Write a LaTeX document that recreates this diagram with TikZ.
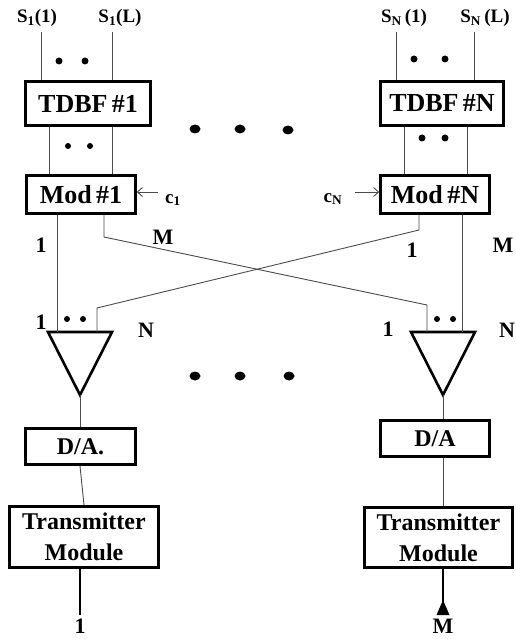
\documentclass[tikz,border=0pt]{standalone}
\usepackage{fontspec}
\setmainfont{Liberation Serif}
\usetikzlibrary{arrows.meta,shapes.geometric}
\begin{document}
\begin{tikzpicture}[x=1pt,y=-1pt,
  box/.style={draw, line width=2.6pt, inner sep=0pt, align=center,
    font=\fontsize{24}{31}\selectfont\bfseries},
  bigbox/.style={box, font=\fontsize{26}{31}\selectfont\bfseries},
  wire/.style={draw=black!70, line width=0.9pt},
  thick wire/.style={draw=black, line width=2.8pt},
  tri/.style={draw, line width=2.6pt, line join=miter},
  lbl/.style={inner sep=0pt, font=\fontsize{22}{24}\selectfont\bfseries},
  slbl/.style={inner sep=0pt, font=\fontsize{19}{22}\selectfont\bfseries},
  clbl/.style={inner sep=0pt, font=\fontsize{19}{20}\selectfont\bfseries},
  dotsm/.style={circle, fill, inner sep=0pt, minimum size=7pt},
  dotbig/.style={ellipse, fill, inner sep=0pt, minimum width=11pt, minimum height=9pt},
  ctrl/.style={draw=black!70, line width=0.9pt, -{Straight Barb[length=5pt,width=9pt]}}
]
\fill[white] (0,0) rectangle (515,639);
\useasboundingbox (0,0) rectangle (515,639);

% boxes
\node[bigbox, minimum width=125pt, minimum height=44pt] (tdbf1) at (88,103.5) {TDBF\,\#1};
\node[bigbox, minimum width=123pt, minimum height=44pt] (tdbfN) at (442,103.5) {TDBF\,\#N};
\node[bigbox, minimum width=109pt, minimum height=38pt] (mod1) at (81,194.5) {Mod\,\#1};
\node[bigbox, minimum width=109pt, minimum height=38pt] (modN) at (435,194.5) {Mod\,\#N};
\node[box, minimum width=110pt, minimum height=36pt] (da1) at (80.5,446.5) {D/A.};
\node[box, minimum width=109pt, minimum height=36pt] (daN) at (435,438.5) {D/A};
\node[box, minimum width=149pt, minimum height=61pt] (tm1) at (84,537) {Transmitter\\Module};
\node[box, minimum width=148pt, minimum height=60pt] (tmN) at (438.5,537.5) {Transmitter\\Module};

% top labels
\node[slbl] (s11) at (37,18) {S\textsubscript{1}(1)};
\node[slbl] (s1L) at (120,18) {S\textsubscript{1}(L)};
\node[slbl] (sN1) at (404,18) {S\textsubscript{N}\,(1)};
\node[slbl] (sNL) at (485,18) {S\textsubscript{N}\,(L)};

% input wires
\coordinate (i1a) at (41,32);  \coordinate (i1b) at (112,32);
\coordinate (iNa) at (396,32); \coordinate (iNb) at (474,32);
\draw[wire] (i1a) -- (i1a |- tdbf1.north);
\draw[wire] (i1b) -- (i1b |- tdbf1.north);
\draw[wire] (iNa) -- (iNa |- tdbfN.north);
\draw[wire] (iNb) -- (iNb |- tdbfN.north);
\node[dotsm] (d1) at (59,61) {};
\node[dotsm] (d2) at (85,61) {};
\node[dotsm] (d3) at (414,59) {};
\node[dotsm] (d4) at (445,59) {};

% TDBF -> Mod
\coordinate (m1a) at (49,127);  \coordinate (m1b) at (112,127);
\coordinate (mNa) at (404,127); \coordinate (mNb) at (467,127);
\draw[wire] (m1a) -- (m1a |- mod1.north);
\draw[wire] (m1b) -- (m1b |- mod1.north);
\draw[wire] (mNa) -- (mNa |- modN.north);
\draw[wire] (mNb) -- (mNb |- modN.north);
\node[dotsm, minimum size=6pt] (d5) at (68,146) {};
\node[dotsm, minimum size=6pt] (d6) at (90,146) {};
\node[dotsm] (d7) at (422,138) {};
\node[dotsm] (d8) at (445,138) {};

% big dots
\node[dotbig] (b1) at (195,129) {};
\node[dotbig] (b2) at (240,129) {};
\node[dotbig] (b3) at (288,130) {};
\node[dotbig] (b4) at (195,376) {};
\node[dotbig] (b5) at (240,376) {};
\node[dotbig] (b6) at (289,376) {};

% control inputs
\node[clbl] (c1) at (173,200) {c\textsubscript{1}};
\node[clbl] (cN) at (333,199) {c\textsubscript{N}};
\coordinate (c1s) at (158,192);
\coordinate (cNs) at (355,192);
\draw[ctrl] (c1s) -- (c1s -| mod1.east);
\draw[ctrl] (cNs) -- (cNs -| modN.west);

% triangles (combiners)
\coordinate (t1l) at (48,332); \coordinate (t1r) at (112,332); \coordinate (t1a) at (80,395);
\coordinate (tNl) at (411,332); \coordinate (tNr) at (475,332); \coordinate (tNa) at (443,395);
\draw[tri] (t1l) -- (t1r) -- (t1a) -- cycle;
\draw[tri] (tNl) -- (tNr) -- (tNa) -- cycle;

% crossing wires
\coordinate (o11) at (57,215);  \coordinate (o1M) at (104,215);
\coordinate (oN1) at (419,215); \coordinate (oNM) at (462,215);
\draw[wire] (o11) -- (57,332);
\draw[wire] (o1M) -- (104,237) -- (427,305) -- (427,332);
\draw[wire] (oN1) -- (419,230) -- (97,308) -- (97,332);
\draw[wire] (oNM) -- (462,332);

\node[lbl] (l1) at (41,245) {1};
\node[lbl] (lM) at (163,237) {M};
\node[lbl] (l2) at (412,250) {1};
\node[lbl] (lM2) at (503,245) {M};
\node[lbl] (l3) at (41,322) {1};
\node[lbl] (lN) at (146,330) {N};
\node[lbl] (l4) at (388,329) {1};
\node[lbl] (lN2) at (507,330) {N};
\node[dotsm, minimum size=6pt] (d9) at (67,319) {};
\node[dotsm, minimum size=6pt] (d10) at (83,319) {};
\node[dotsm, minimum size=6pt] (d11) at (437,319) {};
\node[dotsm, minimum size=6pt] (d12) at (453,319) {};

% triangle -> D/A -> TM
\draw[wire] (t1a) -- (t1a |- da1.north);
\draw[wire] (tNa) -- (tNa |- daN.north);
\draw[wire] (80,466) -- (84,505);
\draw[wire] (daN.south -| tNa) -- (tmN.north -| tNa);

% outputs
\coordinate (e1) at (80,615);
\coordinate (eN) at (443,615);
\draw[thick wire] (tm1.south -| e1) -- (e1);
\draw[thick wire] (tmN.south -| eN) -- (443,603);
\fill (436.5,615) -- (449.5,615) -- (443,600) -- cycle;
\node[lbl] (o1) at (80,626) {1};
\node[lbl] (oM) at (443,626) {M};
\end{tikzpicture}
\end{document}
